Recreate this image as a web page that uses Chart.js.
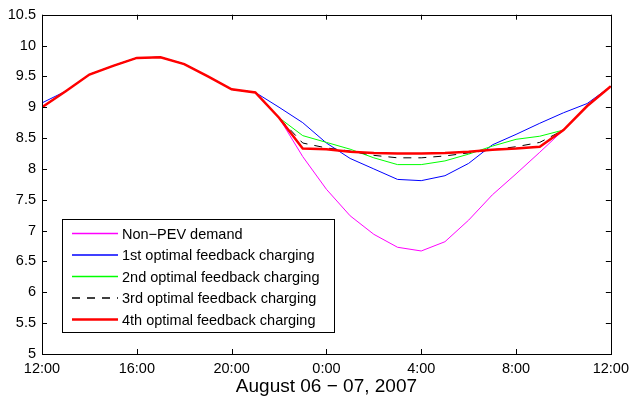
<!DOCTYPE html>
<html>
<head>
<meta charset="utf-8">
<script src="https://cdn.jsdelivr.net/npm/chart.js@4/dist/chart.umd.min.js"></script>
<style>
html,body{margin:0;padding:0;background:#fff;}
#wrap{width:635px;height:403px;}
</style>
</head>
<body>
<div id="wrap"><canvas id="c" width="635" height="403"></canvas></div>
<script>
// Hours since 12:00 on August 06
const hours = [0,1,2,3,4,5,6,7,8,9,10,11,12,13,14,15,16,17,18,19,20,21,22,23,24];
const xTickLabels = ['12:00','16:00','20:00','0:00','4:00','8:00','12:00'];
const yTickValues = [5,5.5,6,6.5,7,7.5,8,8.5,9,9.5,10,10.5];
const seriesNames = ['Non\u2212PEV demand','1st optimal feedback charging','2nd optimal feedback charging','3rd optimal feedback charging','4th optimal feedback charging'];

const nonPEV = [9.00,9.26,9.53,9.67,9.80,9.81,9.70,9.50,9.29,9.24,8.83,8.20,7.67,7.24,6.94,6.73,6.67,6.82,7.17,7.58,7.92,8.27,8.63,9.02,9.34];
const opt1   = [9.07,9.26,9.53,9.67,9.80,9.81,9.70,9.50,9.29,9.24,9.00,8.75,8.42,8.17,8.00,7.83,7.81,7.89,8.09,8.39,8.56,8.74,8.91,9.06,9.34];
const opt2   = [9.00,9.26,9.53,9.67,9.80,9.81,9.70,9.50,9.29,9.24,8.83,8.54,8.43,8.32,8.18,8.07,8.07,8.13,8.24,8.37,8.48,8.53,8.63,9.02,9.34];
const opt3   = [9.00,9.26,9.53,9.67,9.80,9.81,9.70,9.50,9.29,9.24,8.83,8.42,8.34,8.29,8.22,8.18,8.18,8.21,8.26,8.31,8.36,8.43,8.63,9.02,9.34];
const opt4   = [9.00,9.26,9.53,9.67,9.80,9.81,9.70,9.50,9.29,9.24,8.83,8.33,8.32,8.28,8.26,8.25,8.25,8.26,8.28,8.31,8.33,8.36,8.63,9.02,9.34];

const FONT = '"Liberation Sans", Arial, Helvetica, sans-serif';
const toPts = arr => arr.map((v,i)=>({x:hours[i], y:v}));

const styles = [
  {color:'#ff00ff', width:1, dash:[], order:5},
  {color:'#0000ff', width:1, dash:[], order:4},
  {color:'#00ff00', width:1, dash:[], order:3},
  {color:'#000000', width:1, dash:[8,7], order:2},
  {color:'#ff0000', width:2.5, dash:[], order:1}
];
const seriesData = [nonPEV,opt1,opt2,opt3,opt4];

const datasets = seriesData.map((d,i)=>({
  label: seriesNames[i],
  data: toPts(d),
  borderColor: styles[i].color,
  backgroundColor: styles[i].color,
  borderWidth: styles[i].width,
  borderDash: styles[i].dash,
  pointRadius: 0,
  tension: 0,
  fill: false,
  order: styles[i].order
}));

const frame = {
  id:'frame',
  afterDraw(chart){
    const ctx = chart.ctx, a = chart.chartArea;
    const xs = chart.scales.x, ys = chart.scales.y;
    ctx.save();
    ctx.strokeStyle = '#000';
    ctx.lineWidth = 1;
    ctx.setLineDash([]);
    ctx.strokeRect(Math.round(a.left)+0.5, Math.round(a.top)+0.5, Math.round(a.right-a.left), Math.round(a.bottom-a.top));
    const tl = 5;
    ctx.beginPath();
    for (let k=0;k<xTickLabels.length;k++){
      const px = Math.round(xs.getPixelForValue(k*4))+0.5;
      ctx.moveTo(px, a.bottom); ctx.lineTo(px, a.bottom-tl);
      ctx.moveTo(px, a.top); ctx.lineTo(px, a.top+tl);
    }
    yTickValues.forEach(v=>{
      const py = Math.round(ys.getPixelForValue(v))+0.5;
      ctx.moveTo(a.left, py); ctx.lineTo(a.left+tl, py);
      ctx.moveTo(a.right, py); ctx.lineTo(a.right-tl, py);
    });
    ctx.stroke();

    // legend
    const bx=62.5, by=219.5, bw=272, bh=113;
    ctx.fillStyle='#fff';
    ctx.fillRect(bx,by,bw,bh);
    ctx.strokeRect(bx,by,bw,bh);
    ctx.font = '14.5px ' + FONT;
    ctx.textBaseline = 'middle';
    ctx.textAlign = 'left';
    chart.data.datasets.forEach((ds,i)=>{
      const y = 233.5 + i*21.5;
      ctx.save();
      ctx.strokeStyle = ds.borderColor;
      ctx.lineWidth = ds.borderWidth > 1.5 ? ds.borderWidth : 1.4;
      ctx.setLineDash(ds.borderDash||[]);
      ctx.beginPath();
      ctx.moveTo(72, y);
      ctx.lineTo(118, y);
      ctx.stroke();
      ctx.restore();
      ctx.fillStyle='#000';
      ctx.fillText(ds.label, 122, y+1);
    });
    ctx.restore();
  }
};

new Chart(document.getElementById('c'), {
  type:'line',
  data:{datasets},
  options:{
    responsive:false,
    animation:false,
    layout:{padding:{top:10,right:21,left:0,bottom:0}},
    plugins:{legend:{display:false}, tooltip:{enabled:false}},
    scales:{
      x:{
        type:'linear', min:0, max:24,
        afterBuildTicks(s){ s.ticks = xTickLabels.map((_,k)=>({value:k*4})); },
        afterFit(s){ s.height = 49; },
        grid:{display:false, drawTicks:false},
        border:{display:false},
        ticks:{
          padding:6, color:'#000', font:{family:FONT, size:14.5},
          maxRotation:0, autoSkip:false,
          callback:(v)=> xTickLabels[Math.round(v/4)]
        },
        title:{display:true, text:'August 06 \u2212 07, 2007', color:'#000', font:{family:FONT, size:19}, padding:{top:0,bottom:5}}
      },
      y:{
        min:5, max:10.5,
        afterBuildTicks(s){ s.ticks = yTickValues.map(v=>({value:v})); },
        afterFit(s){ s.width = 42; },
        grid:{display:false, drawTicks:false},
        border:{display:false},
        ticks:{padding:6, color:'#000', font:{family:FONT, size:14.5}, autoSkip:false,
          callback:(v)=> String(v)}
      }
    }
  },
  plugins:[frame]
});
</script>
</body>
</html>
